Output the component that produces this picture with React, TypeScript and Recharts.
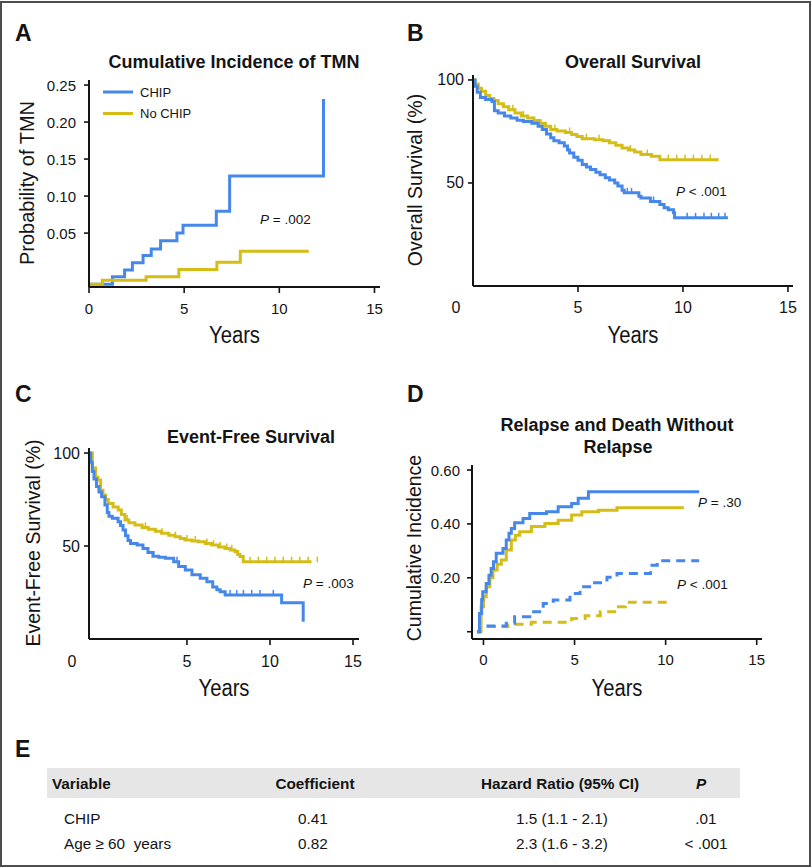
import React from 'react';
import { ComposedChart, Line, Scatter, XAxis, YAxis, Customized } from 'recharts';

const BLUE = '#4688ea';
const YELLOW = '#d5bd18';
const INK = '#141414';
const FONT = '"Liberation Sans", Arial, Helvetica, sans-serif';

// ---------- shared labels
const SERIES_NAMES = ['CHIP', 'No CHIP'];
const SERIES_COLORS = [BLUE, YELLOW];
const X_LABEL = 'Years';
const PANEL_LETTERS = ['A', 'B', 'C', 'D', 'E'];
const X_TICKS = [0, 5, 10, 15];
const X_TICKS_C = [5, 10, 15];

// ---------- Panel A
const A_TITLE = 'Cumulative Incidence of TMN';
const A_Y_LABEL = 'Probability of TMN';
const A_P = ' = .002';
const A_Y_TICKS = [0.05, 0.1, 0.15, 0.2, 0.25];
const A_CHIP_T = [0.05, 1.23, 1.87, 2.28, 2.84, 3.27, 3.76, 4.62, 4.94, 6.69, 7.39, 12.32];
const A_CHIP_V = [-0.019, -0.009, 0.0, 0.01, 0.0196, 0.0286, 0.0397, 0.05, 0.0607, 0.0795, 0.127, 0.231];
const A_NO_T = [0.05, 0.7, 3.0, 4.72, 6.72, 7.95, 11.55];
const A_NO_V = [-0.019, -0.0138, -0.009, 0.001, 0.0107, 0.0255, 0.0255];

// ---------- Panel B
const B_TITLE = 'Overall Survival';
const B_Y_LABEL = 'Overall Survival (%)';
const B_P = ' < .001';
const B_Y_TICKS = [50, 100];
const B_CHIP_T = [0, 0.1, 0.2, 0.35, 0.6, 0.9, 1.02, 1.2, 1.5, 1.8, 2.1, 2.4, 2.8, 3.1, 3.3, 3.5, 3.7, 3.85, 4.1, 4.35, 4.5, 4.6, 4.8, 5.0, 5.2, 5.4, 5.6, 5.85, 6.05, 6.3, 6.5, 6.75, 6.9, 7.1, 7.2, 7.9, 8.0, 8.45, 8.9, 9.1, 9.3, 9.55, 9.6, 12.14];
const B_CHIP_V = [100, 97, 94, 91.5, 90.5, 89.5, 85, 84, 82.5, 81.5, 80.5, 79.8, 79, 77.5, 76, 73.8, 72, 70.5, 69.5, 68, 66, 64.5, 62.5, 61, 59, 57.8, 56.5, 55.2, 54, 52.5, 51.5, 50, 48.5, 46.5, 45.2, 43.5, 42.7, 41, 39.5, 38, 37, 35.5, 33.1, 33.1];
const B_NO_T = [0, 0.1, 0.25, 0.4, 0.6, 0.8, 1.0, 1.2, 1.45, 1.7, 2.0, 2.3, 2.6, 2.9, 3.2, 3.45, 3.7, 4.0, 4.4, 4.7, 4.95, 5.2, 5.8, 6.2, 6.5, 6.8, 7.1, 7.4, 7.7, 8.0, 8.5, 8.9, 11.7];
const B_NO_V = [100, 98, 96, 94.5, 92.5, 91, 90, 88.5, 87, 85.5, 84, 82.5, 81.5, 80.3, 79, 77.5, 76, 75.2, 74.5, 73.5, 72.5, 71.5, 71, 70.5, 69.5, 68.3, 67, 66, 65, 63.8, 63, 61.3, 61.3];
const B_CHIP_CENS_T = [7.35, 7.55, 8.6, 10.2, 10.6, 11.0, 11.35, 11.7, 12.0];
const B_CHIP_CENS_V = [45.2, 45.2, 41, 33.1, 33.1, 33.1, 33.1, 33.1, 33.1];
const B_NO_CENS_T = [1.9, 2.4, 3.9, 4.6, 5.4, 6.0, 7.5, 8.3, 9.3, 9.7, 10.1, 10.5, 10.9, 11.3];
const B_NO_CENS_V = [85.5, 82.5, 76, 74.5, 71.5, 71, 66, 63.8, 61.3, 61.3, 61.3, 61.3, 61.3, 61.3];

// ---------- Panel C
const C_TITLE = 'Event-Free Survival';
const C_Y_LABEL = 'Event-Free Survival (%)';
const C_P = ' = .003';
const C_ZERO = '0';
const C_Y_TICKS = [50, 100];
const C_CHIP_T = [-0.9, -0.8, -0.7, -0.6, -0.45, -0.3, -0.14, 0.06, 0.2, 0.3, 0.5, 0.85, 1.0, 1.15, 1.3, 1.45, 1.6, 2.0, 2.35, 2.65, 2.95, 3.3, 3.7, 4.2, 4.5, 4.9, 5.3, 5.8, 6.2, 6.55, 6.8, 7.0, 7.3, 10.7, 12.0];
const C_CHIP_V = [100, 95, 90, 86, 82, 79, 76.5, 72, 68, 66, 64.9, 63, 61, 58.6, 55.5, 53, 51.4, 50.5, 48.7, 46.5, 44.5, 44, 43.4, 41.6, 39, 37.1, 34.5, 32.6, 30.8, 28, 26.5, 25.4, 23.7, 19.5, 9.3];
const C_NO_T = [-0.9, -0.7, -0.5, -0.36, -0.2, -0.06, 0.1, 0.26, 0.55, 0.86, 1.05, 1.27, 1.5, 1.87, 2.3, 2.67, 3.1, 3.47, 3.9, 4.28, 4.6, 4.88, 5.3, 5.68, 6.1, 6.49, 6.9, 7.29, 7.6, 7.89, 8.05, 8.19, 8.39, 12.5];
const C_NO_V = [100, 92, 87, 85.5, 80, 77.4, 75, 72.9, 71, 69.4, 67, 64, 62.5, 61.3, 60, 59, 58, 56.8, 55.8, 55, 54, 53.2, 52.7, 52.3, 51.3, 50.5, 49.5, 48.7, 47.8, 47, 45.5, 44.3, 41.6, 41.6];
const C_CHIP_CENS_T = [3.0, 4.4, 7.6, 8.0, 8.4, 8.9, 9.4, 10.2];
const C_CHIP_CENS_V = [44.5, 41.6, 23.7, 23.7, 23.7, 23.7, 23.7, 23.7];
const C_NO_CENS_T = [1.4, 2.5, 3.5, 4.3, 5.0, 5.5, 6.2, 6.6, 7.0, 7.4, 7.7, 8.8, 9.3, 9.8, 10.3, 10.8, 11.3, 11.8, 12.3, 12.85];
const C_NO_CENS_V = [64, 60, 56.8, 55, 53.2, 52.7, 51.3, 50.5, 49.5, 48.7, 47.8, 41.6, 41.6, 41.6, 41.6, 41.6, 41.6, 41.6, 41.6, 41.6];

// ---------- Panel D
const D_TITLE_1 = 'Relapse and Death Without';
const D_TITLE_2 = 'Relapse';
const D_Y_LABEL = 'Cumulative Incidence';
const D_P_REL = ' = .30';
const D_P_NRM = ' < .001';
const D_Y_TICKS = [0, 0.2, 0.4, 0.6];
const D_CHIP_REL_T = [-0.35, -0.22, -0.1, -0.04, 0.15, 0.3, 0.42, 0.55, 0.7, 1.07, 1.25, 1.4, 1.53, 1.71, 2.17, 2.54, 3.46, 4.1, 4.84, 5.2, 5.76, 11.84];
const D_CHIP_REL_V = [0, 0.068, 0.12, 0.148, 0.179, 0.21, 0.235, 0.26, 0.291, 0.309, 0.34, 0.365, 0.383, 0.404, 0.42, 0.439, 0.445, 0.464, 0.476, 0.495, 0.519, 0.519];
const D_NO_REL_T = [-0.35, -0.13, 0.0, 0.15, 0.35, 0.52, 0.75, 0.98, 1.25, 1.53, 1.75, 1.99, 2.63, 3.37, 4.1, 4.84, 5.4, 6.32, 7.33, 11.0];
const D_NO_REL_V = [0, 0.093, 0.13, 0.167, 0.2, 0.229, 0.25, 0.266, 0.303, 0.34, 0.358, 0.371, 0.39, 0.402, 0.414, 0.433, 0.445, 0.451, 0.46, 0.46];
const D_CHIP_NRM_T = [-0.35, -0.22, 1.25, 1.71, 2.54, 3.28, 3.83, 4.75, 5.3, 5.95, 6.78, 7.33, 9.17, 9.54, 11.84];
const D_CHIP_NRM_V = [0, 0.021, 0.031, 0.056, 0.074, 0.105, 0.118, 0.142, 0.167, 0.182, 0.202, 0.216, 0.247, 0.263, 0.263];
const D_NO_NRM_T = [-0.35, -0.2, 1.34, 2.63, 4.84, 5.58, 6.41, 7.33, 7.79, 10.37];
const D_NO_NRM_V = [0, 0.019, 0.028, 0.035, 0.049, 0.059, 0.074, 0.093, 0.109, 0.109];

// ---------- Panel E (table)
const TABLE_HEADERS = ['Variable', 'Coefficient', 'Hazard Ratio (95% CI)', 'P'];
const TABLE_VARIABLES = ['CHIP', 'Age \u2265 60\u00a0 years'];
const TABLE_COEF = ['0.41', '0.82'];
const TABLE_HR = ['1.5 (1.1 - 2.1)', '2.3 (1.6 - 3.2)'];
const TABLE_P = ['.01', '< .001'];

type Pt = { t: number; v: number };
const zip = (t: number[], v: number[]): Pt[] => t.map((x, i) => ({ t: x, v: v[i] }));

type Series = { name: string; data: Pt[]; color: string; dashed?: boolean; censor?: Pt[] };

const Y_AXIS_W = 40;
const X_AXIS_H = 30;

const XTick = (props: any) => {
  const { x, y, payload, tFs, tDy, tZeroDx } = props;
  const v = payload?.value;
  const shifted = v === 0 && typeof tZeroDx === 'number';
  return (
    <g>
      {!shifted && <line x1={x} x2={x} y1={y} y2={y + 6} stroke={INK} strokeWidth={1.6} />}
      <text x={x + (shifted ? tZeroDx : 0)} y={y + tDy} textAnchor="middle" dominantBaseline="central"
        fontFamily={FONT} fontSize={tFs} fill={INK}>{String(v)}</text>
    </g>
  );
};

const YTick = (props: any) => {
  const { x, y, payload, tFs, tGap, tFmt } = props;
  const label = tFmt(payload?.value);
  return (
    <g>
      <line x1={x - 5} x2={x} y1={y} y2={y} stroke={INK} strokeWidth={1.6} />
      {label ? (
        <text x={x - tGap} y={y} textAnchor="end" dominantBaseline="central" fontFamily={FONT}
          fontSize={tFs} fill={INK}>{label}</text>
      ) : null}
    </g>
  );
};

const censorShape = (color: string) => (props: any) => (
  <line x1={props.cx} x2={props.cx} y1={props.cy - 5} y2={props.cy + 0.5} stroke={color} strokeWidth={1.5} />
);

const Overlay = (props: any) => <g transform={props.tr}>{props.content}</g>;

type TxtOpts = { size?: number; bold?: boolean; anchor?: string; rot?: boolean; len?: number; italic?: boolean };
const txt = (x: number, y: number, s: string, o: TxtOpts = {}) => (
  <text x={x} y={y} fontFamily={FONT} fill={INK} dominantBaseline="central"
    textAnchor={(o.anchor || 'middle') as any} fontSize={o.size || 14}
    fontWeight={o.bold ? 'bold' : 'normal'} fontStyle={o.italic ? 'italic' : 'normal'}
    transform={o.rot ? `rotate(-90 ${x} ${y})` : undefined}
    textLength={o.len} lengthAdjust={o.len ? 'spacingAndGlyphs' : undefined}
    style={{ whiteSpace: 'pre' }}>{s}</text>
);
const ptxt = (x: number, y: number, rest: string, size = 13.5) => (
  <text x={x} y={y} fontFamily={FONT} fill={INK} dominantBaseline="central" textAnchor="start"
    fontSize={size} style={{ whiteSpace: 'pre' }}>
    <tspan fontStyle="italic">P</tspan>{rest}
  </text>
);
const yearsLabel = (x: number, y: number) => txt(x, y, X_LABEL, { size: 23, len: 51 });
const letter = (x: number, y: number, s: string) => txt(x, y, s, { size: 23, bold: true, anchor: 'start' });

type PanelProps = {
  box: number[];
  plot: number[];
  xDomain: number[];
  xTicks: number[];
  yDomain: number[];
  yTicks: number[];
  yFmt: (v: number) => string;
  tickFs: number;
  yGap: number;
  xDy: number;
  zeroDx?: number;
  series: Series[];
  overlay: React.ReactNode;
};

function Panel(p: PanelProps) {
  const [bx, by, bw, bh] = p.box;
  const [l, t, r, b] = p.plot;
  const margin = {
    left: l - bx - Y_AXIS_W,
    top: t - by,
    right: bx + bw - r,
    bottom: by + bh - b - X_AXIS_H,
  };
  return (
    <div style={{ position: 'absolute', left: bx, top: by, width: bw, height: bh }}>
      <ComposedChart width={bw} height={bh} margin={margin}>
        <XAxis type="number" dataKey="t" domain={p.xDomain as any} ticks={p.xTicks} interval={0}
          allowDataOverflow height={X_AXIS_H} tickSize={0} tickMargin={0} tickLine={false}
          axisLine={{ stroke: INK, strokeWidth: 2 }}
          tick={<XTick tFs={p.tickFs} tDy={p.xDy} tZeroDx={p.zeroDx} />} />
        <YAxis type="number" domain={p.yDomain as any} ticks={p.yTicks} interval={0}
          allowDataOverflow width={Y_AXIS_W} tickSize={0} tickMargin={0} tickLine={false}
          axisLine={{ stroke: INK, strokeWidth: 2 }}
          tick={<YTick tFs={p.tickFs} tGap={p.yGap} tFmt={p.yFmt} />} />
        {p.series.map((s, i) => (
          <Line key={'l' + i} data={s.data} dataKey="v" type="stepAfter" stroke={s.color}
            strokeWidth={3} dot={false} activeDot={false} isAnimationActive={false}
            strokeDasharray={s.dashed ? '9 6' : undefined} name={s.name} />
        ))}
        {p.series.filter((s) => s.censor).map((s, i) => (
          <Scatter key={'c' + i} data={s.censor} dataKey="v" fill={s.color}
            shape={censorShape(s.color)} isAnimationActive={false} />
        ))}
        <Customized component={<Overlay tr={`translate(${-bx},${-by})`} content={p.overlay} />} />
      </ComposedChart>
    </div>
  );
}

export default function App() {
  const legendA = (
    <g>
      {SERIES_NAMES.map((n, i) => (
        <g key={n}>
          <line x1={103} x2={133} y1={92 + i * 21.5} y2={92 + i * 21.5} stroke={SERIES_COLORS[i]} strokeWidth={3} />
          {txt(140, 92 + i * 21.5, n, { size: 13, anchor: 'start' })}
        </g>
      ))}
    </g>
  );

  return (
    <div style={{ position: 'absolute', left: 0, top: 0, width: 812, height: 868, background: '#fff', overflow: 'hidden' }}>
      <svg width={812} height={868} style={{ position: 'absolute', left: 0, top: 0 }}>
        <rect x={1} y={2} width={809} height={864} fill="none" stroke="#4d4d4d" strokeWidth={2} />
        {letter(15, 749, PANEL_LETTERS[4])}
        <rect x={47} y={768} width={693} height={30} fill="#e6e6e6" />
        {txt(52, 783.5, TABLE_HEADERS[0], { size: 15.3, bold: true, anchor: 'start' })}
        {txt(315, 783.5, TABLE_HEADERS[1], { size: 15.3, bold: true })}
        {txt(560, 783.5, TABLE_HEADERS[2], { size: 15.3, bold: true })}
        {txt(701, 783.5, TABLE_HEADERS[3], { size: 15.3, bold: true, italic: true })}
        {TABLE_VARIABLES.map((v, i) => (
          <g key={v}>
            {txt(64, 818 + i * 25, v, { size: 15.3, anchor: 'start' })}
            {txt(313, 818 + i * 25, TABLE_COEF[i], { size: 15.3 })}
            {txt(562, 818 + i * 25, TABLE_HR[i], { size: 15.3 })}
            {txt(706, 818 + i * 25, TABLE_P[i], { size: 15.3 })}
          </g>
        ))}
      </svg>

      <Panel
        box={[0, 0, 400, 350]}
        plot={[89, 80, 380, 287]}
        xDomain={[0, 15.29]}
        xTicks={X_TICKS}
        yDomain={[-0.0228, 0.2568]}
        yTicks={A_Y_TICKS}
        yFmt={(v) => v.toFixed(2)}
        tickFs={15}
        yGap={13}
        xDy={21.5}
        series={[
          { name: SERIES_NAMES[0], data: zip(A_CHIP_T, A_CHIP_V), color: BLUE },
          { name: SERIES_NAMES[1], data: zip(A_NO_T, A_NO_V), color: YELLOW },
        ]}
        overlay={
          <g>
            {letter(15, 32.5, PANEL_LETTERS[0])}
            {txt(234, 62, A_TITLE, { size: 18, bold: true })}
            {legendA}
            {ptxt(260, 219, A_P)}
            {txt(27, 183, A_Y_LABEL, { size: 20, rot: true })}
            {yearsLabel(234.5, 335)}
          </g>
        }
      />

      <Panel
        box={[400, 0, 412, 350]}
        plot={[473, 75, 793, 286]}
        xDomain={[0, 15.24]}
        xTicks={X_TICKS}
        yDomain={[0, 102.4]}
        yTicks={B_Y_TICKS}
        yFmt={(v) => String(v)}
        tickFs={16}
        yGap={9}
        xDy={21.5}
        zeroDx={-17}
        series={[
          { name: SERIES_NAMES[1], data: zip(B_NO_T, B_NO_V), color: YELLOW, censor: zip(B_NO_CENS_T, B_NO_CENS_V) },
          { name: SERIES_NAMES[0], data: zip(B_CHIP_T, B_CHIP_V), color: BLUE, censor: zip(B_CHIP_CENS_T, B_CHIP_CENS_V) },
        ]}
        overlay={
          <g>
            {letter(407, 32.5, PANEL_LETTERS[1])}
            {txt(633, 62, B_TITLE, { size: 18, bold: true })}
            {ptxt(676, 191, B_P)}
            {txt(415, 180, B_Y_LABEL, { size: 19.5, rot: true })}
            {yearsLabel(633, 335)}
          </g>
        }
      />

      <Panel
        box={[0, 350, 400, 355]}
        plot={[89, 448, 359, 639]}
        xDomain={[-0.9, 15.36]}
        xTicks={X_TICKS_C}
        yDomain={[0, 102.7]}
        yTicks={C_Y_TICKS}
        yFmt={(v) => String(v)}
        tickFs={16}
        yGap={9}
        xDy={22.5}
        series={[
          { name: SERIES_NAMES[1], data: zip(C_NO_T, C_NO_V), color: YELLOW, censor: zip(C_NO_CENS_T, C_NO_CENS_V) },
          { name: SERIES_NAMES[0], data: zip(C_CHIP_T, C_CHIP_V), color: BLUE, censor: zip(C_CHIP_CENS_T, C_CHIP_CENS_V) },
        ]}
        overlay={
          <g>
            {letter(15, 394, PANEL_LETTERS[2])}
            {txt(251, 437, C_TITLE, { size: 18, bold: true })}
            {ptxt(303, 583, C_P)}
            {txt(33, 543, C_Y_LABEL, { size: 19.5, rot: true })}
            {txt(72, 661.5, C_ZERO, { size: 16 })}
            {yearsLabel(224, 688)}
          </g>
        }
      />

      <Panel
        box={[400, 350, 412, 355]}
        plot={[472, 465, 762, 639]}
        xDomain={[-0.63, 15.29]}
        xTicks={X_TICKS}
        yDomain={[-0.027, 0.6186]}
        yTicks={D_Y_TICKS}
        yFmt={(v) => (v === 0 ? '' : v.toFixed(2))}
        tickFs={15}
        yGap={12}
        xDy={20}
        series={[
          { name: SERIES_NAMES[1] + ' relapse', data: zip(D_NO_REL_T, D_NO_REL_V), color: YELLOW },
          { name: SERIES_NAMES[0] + ' relapse', data: zip(D_CHIP_REL_T, D_CHIP_REL_V), color: BLUE },
          { name: SERIES_NAMES[1] + ' death without relapse', data: zip(D_NO_NRM_T, D_NO_NRM_V), color: YELLOW, dashed: true },
          { name: SERIES_NAMES[0] + ' death without relapse', data: zip(D_CHIP_NRM_T, D_CHIP_NRM_V), color: BLUE, dashed: true },
        ]}
        overlay={
          <g>
            {letter(407, 394, PANEL_LETTERS[3])}
            {txt(617, 425, D_TITLE_1, { size: 18, bold: true })}
            {txt(618, 447, D_TITLE_2, { size: 18, bold: true })}
            {ptxt(698, 502, D_P_REL)}
            {ptxt(677, 584, D_P_NRM)}
            {txt(414, 548, D_Y_LABEL, { size: 19.5, rot: true })}
            {yearsLabel(617, 688)}
          </g>
        }
      />
    </div>
  );
}
